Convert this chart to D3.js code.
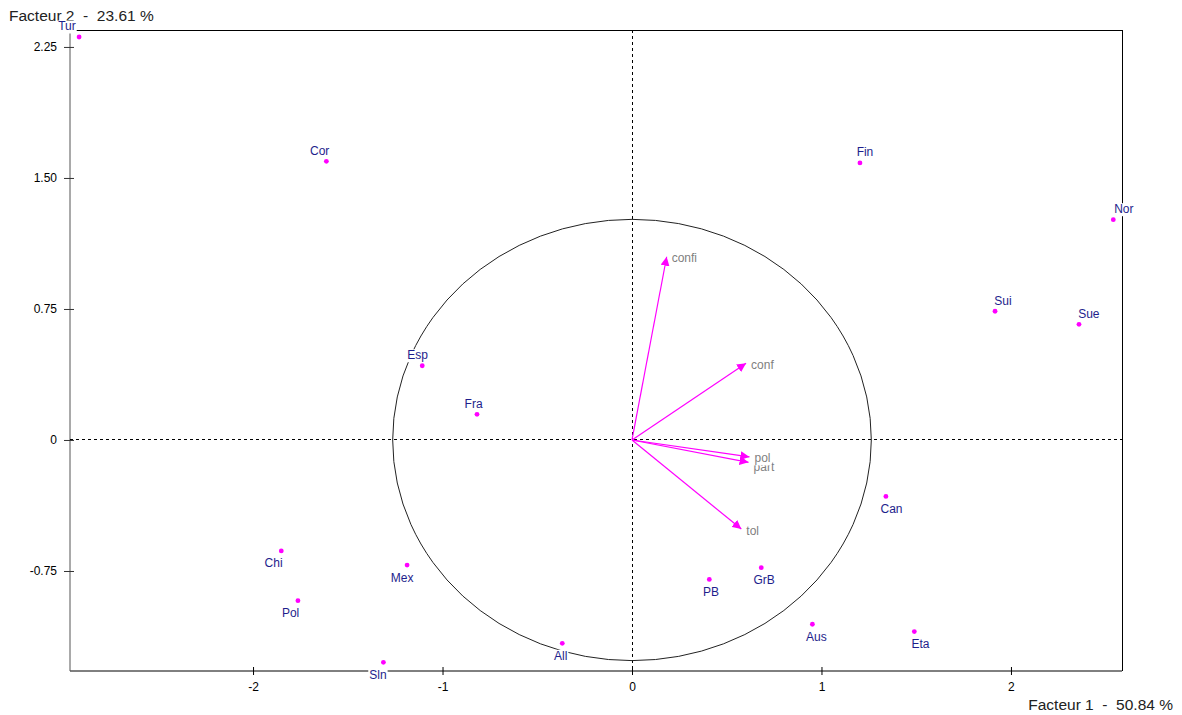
<!DOCTYPE html>
<html>
<head>
<meta charset="utf-8">
<script src="https://cdn.jsdelivr.net/npm/d3@7"></script>
<style>
  html, body { margin: 0; padding: 0; background: #fff; }
  svg { display: block; }
  text { font-family: "Liberation Sans", Arial, sans-serif; }
</style>
</head>
<body>
<svg id="chart" width="1182" height="715"></svg>
<script>
// ---- Data ----
const countries = ["Tur","Cor","Fin","Nor","Sui","Sue","Esp","Fra","Chi","Pol","Mex","Sln","All","Can","PB","GrB","Aus","Eta"];
const factor1 = [-2.918,-1.613,1.203,2.540,1.916,2.359,-1.107,-0.818,-1.851,-1.763,-1.187,-1.312,-0.368,1.340,0.408,0.682,0.952,1.490];
const factor2 = [2.307,1.595,1.586,1.261,0.737,0.662,0.425,0.147,-0.635,-0.920,-0.716,-1.273,-1.164,-0.323,-0.798,-0.731,-1.055,-1.097];

const variables = ["confi","conf","part","pol","tol"];
const varF1 = [0.183,0.602,0.615,0.620,0.577];
const varF2 = [1.049,0.439,-0.128,-0.097,-0.510];

const circleRadius = 1.263;

const xTicks = [-2,-1,0,1,2];
const xTickLabels = ["-2","-1","0","1","2"];
const yTicks = [-0.75,0,0.75,1.5,2.25];
const yTickLabels = ["-0.75","0","0.75","1.50","2.25"];

const xTitle = "Facteur 1  -  50.84 %";
const yTitle = "Facteur 2  -  23.61 %";

// ---- Layout ----
const svg = d3.select("#chart");
const pLeft = 70, pRight = 1122, pTop = 30, pBottom = 671;
const xScale = d3.scaleLinear().domain([-2.966, 2.586]).range([pLeft, pRight]);
const yScale = d3.scaleLinear().domain([-1.3225, 2.347]).range([pBottom, pTop]);
const labelSpread = 1.022;

const magenta = "#ff00ff";
const navy = "#1e1e8c";

// Axis titles (drawn first so point labels can cover them)
svg.append("text")
  .attr("x", 9).attr("y", 21)
  .attr("xml:space", "preserve")
  .style("white-space", "pre")
  .attr("font-size", 15.5).attr("fill", "#222")
  .text(yTitle);

svg.append("text")
  .attr("x", 1173).attr("y", 710)
  .attr("text-anchor", "end")
  .attr("xml:space", "preserve")
  .style("white-space", "pre")
  .attr("font-size", 15.5).attr("fill", "#222")
  .text(xTitle);

// Frame top/right
svg.append("line").attr("x1", pLeft).attr("x2", pRight).attr("y1", pTop).attr("y2", pTop)
  .attr("stroke", "#000").attr("stroke-width", 1).attr("shape-rendering", "crispEdges");
svg.append("line").attr("x1", pRight).attr("x2", pRight).attr("y1", pTop).attr("y2", pBottom)
  .attr("stroke", "#000").attr("stroke-width", 1).attr("shape-rendering", "crispEdges");

// Axes
const xAxis = d3.axisBottom(xScale).tickValues(xTicks)
  .tickFormat((d, i) => xTickLabels[i]).tickSizeOuter(0).tickSizeInner(4).tickPadding(7);
const gx = svg.append("g").attr("transform", `translate(0,${pBottom})`).call(xAxis);
gx.select(".domain").attr("stroke", "#000").attr("d", `M${pLeft},0H${pRight}`);
gx.selectAll(".tick line").attr("y1", -4).attr("stroke", "#000");
gx.selectAll(".tick text").attr("font-size", 12).attr("fill", "#000")
  .attr("font-family", "Liberation Sans, Arial, sans-serif");

const yAxis = d3.axisLeft(yScale).tickValues(yTicks)
  .tickFormat((d, i) => yTickLabels[i]).tickSizeOuter(0).tickSizeInner(6).tickPadding(7);
const gy = svg.append("g").attr("transform", `translate(${pLeft},0)`).call(yAxis);
gy.select(".domain").attr("stroke", "#555").attr("d", `M0,${pTop}V${pBottom}`);
gy.selectAll(".tick line").attr("x2", 4).attr("x1", -6).attr("stroke", "#333");
gy.selectAll(".tick text").attr("font-size", 12).attr("fill", "#000")
  .attr("font-family", "Liberation Sans, Arial, sans-serif");

// Dashed zero lines
svg.append("line")
  .attr("x1", pLeft).attr("x2", pRight).attr("y1", yScale(0)).attr("y2", yScale(0))
  .attr("stroke", "#000").attr("stroke-dasharray", "3,3").attr("shape-rendering", "crispEdges");
svg.append("line")
  .attr("x1", xScale(0)).attr("x2", xScale(0)).attr("y1", pTop).attr("y2", pBottom)
  .attr("stroke", "#000").attr("stroke-dasharray", "3,3").attr("shape-rendering", "crispEdges");

// Correlation circle
svg.append("ellipse")
  .attr("cx", xScale(0)).attr("cy", yScale(0))
  .attr("rx", xScale(circleRadius) - xScale(0))
  .attr("ry", yScale(0) - yScale(circleRadius))
  .attr("fill", "none").attr("stroke", "#222").attr("stroke-width", 1);

// Arrowhead
svg.append("defs").append("marker")
  .attr("id", "arrow").attr("viewBox", "0 0 10 10")
  .attr("refX", 10).attr("refY", 5)
  .attr("markerWidth", 9).attr("markerHeight", 9)
  .attr("markerUnits", "userSpaceOnUse")
  .attr("orient", "auto")
  .append("path").attr("d", "M0,0L10,5L0,10Z").attr("fill", magenta);

const vars = variables.map((v, i) => ({ name: v, x: varF1[i], y: varF2[i] }));
svg.append("g").selectAll("line").data(vars).join("line")
  .attr("x1", xScale(0)).attr("y1", yScale(0))
  .attr("x2", d => xScale(d.x)).attr("y2", d => yScale(d.y))
  .attr("stroke", magenta).attr("stroke-width", 1.2)
  .attr("marker-end", "url(#arrow)");

// Country points
const pts = countries.map((c, i) => ({ name: c, x: factor1[i], y: factor2[i] }));
svg.append("g").selectAll("circle").data(pts).join("circle")
  .attr("cx", d => xScale(d.x)).attr("cy", d => yScale(d.y))
  .attr("r", 2.4).attr("fill", magenta);

// Label helper with white background
function bgLabel(g, x, y, text, color, anchor) {
  const grp = g.append("g");
  const rect = grp.append("rect").attr("fill", "#fff");
  const t = grp.append("text")
    .attr("x", x).attr("y", y)
    .attr("text-anchor", anchor)
    .attr("font-size", 12).attr("fill", color)
    .text(text);
  const b = t.node().getBBox();
  rect.attr("x", b.x - 1).attr("y", b.y + 1).attr("width", b.width + 2).attr("height", b.height - 1);
}

// Variable labels: place from top to bottom, pushing a label down when it
// sits too close to one placed above it
const vg = svg.append("g");
const placed = [];
vars.slice().sort((a, b) => yScale(a.y) - yScale(b.y)).forEach(d => {
  const lx = xScale(d.x) + 5;
  let ly = yScale(d.y) + 5.5;
  placed.forEach(p => {
    if (Math.abs(p.x - lx) < 25 && ly - p.y < 9) ly = p.y + 9;
  });
  placed.push({ x: lx, y: ly });
  d.ly = ly; d.lx = lx;
});
// draw lower labels first so the upper label's background overlaps them
vars.slice().sort((a, b) => b.ly - a.ly).forEach(d => {
  bgLabel(vg, d.lx, d.ly, d.name, "#808080", "start");
});

// Country labels
const lg = svg.append("g");
pts.forEach(d => {
  const lx = xScale(d.x * labelSpread);
  const ly = d.y >= 0 ? yScale(d.y) - 11 + 4.5 : yScale(d.y) + 12 + 4.5;
  bgLabel(lg, lx, ly, d.name, navy, "middle");
});
</script>
</body>
</html>
